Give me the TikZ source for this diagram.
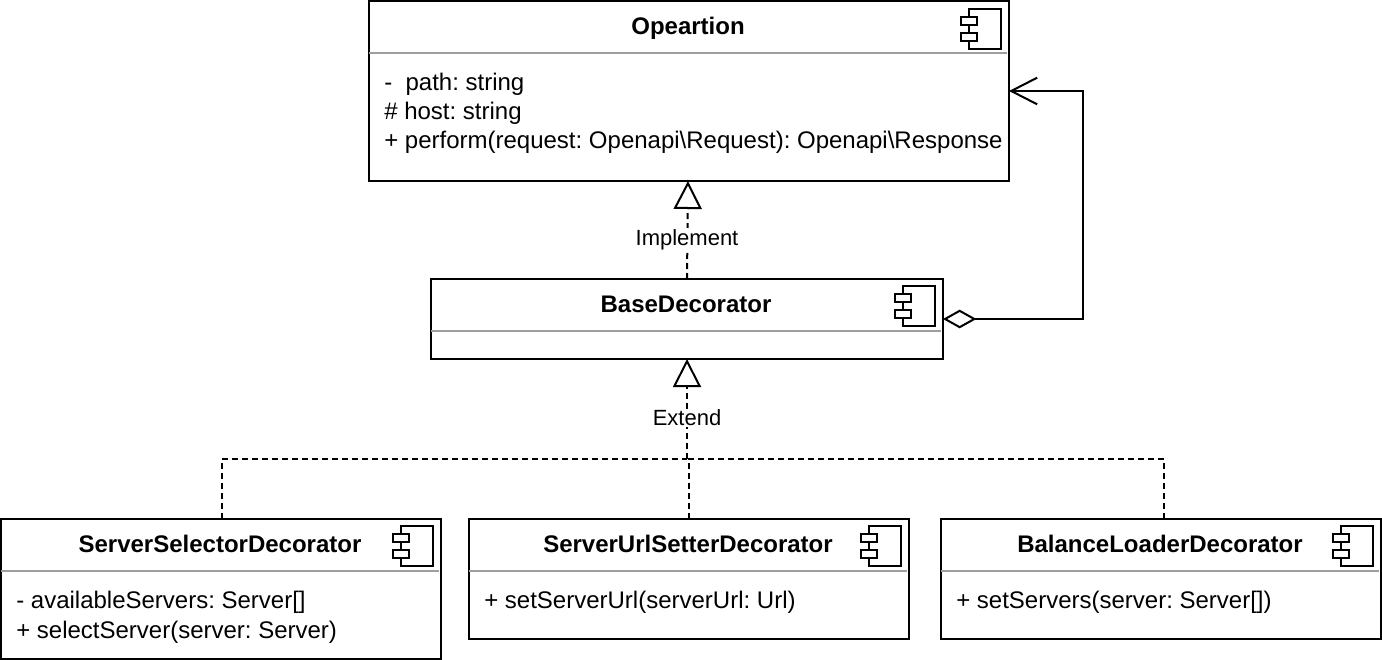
\documentclass[tikz,border=0pt]{standalone}
\usepackage{fontspec}
\setmainfont{Liberation Sans}
\usetikzlibrary{arrows.meta}
\frenchspacing
\tikzset{
  umlbox/.style={draw, line width=1.5pt, fill=white, inner sep=0pt, outer sep=0pt},
  umltitle/.style={font=\fontsize{18}{22}\selectfont\bfseries, inner sep=0pt, text height=13pt, text depth=3.5pt},
  umlbody/.style={font=\fontsize{18}{22}\selectfont, anchor=north west, align=left, inner sep=0pt},
  divider/.style={draw=black!38, line width=1.5pt},
  dep/.style={line width=1.5pt, dash pattern=on 4.5pt off 3pt},
  realize/.style={dep, -{Triangle[open, length=21pt, width=21pt, fill=white, line width=1.5pt]}},
  lbl/.style={font=\fontsize{16.5}{20}\selectfont, fill=white, inner sep=1pt},
  compicon/.pic={
    \draw[line width=1.5pt] (0,0) rectangle (32,40);
    \draw[line width=1.5pt, fill=white] (-8,8) rectangle (8,16);
    \draw[line width=1.5pt, fill=white] (-8,24) rectangle (8,32);
  }
}
\begin{document}
\begin{tikzpicture}[x=0.75pt, y=-0.75pt]
  \useasboundingbox (0,0) rectangle (1382,660);
  % boxes
  \node[umlbox, minimum width=480pt, minimum height=135pt] (op)   at (689,91)  {};
  \node[umlbox, minimum width=384pt, minimum height=60pt]  (base) at (687,319) {};
  \node[umlbox, minimum width=330pt, minimum height=105pt] (sel)  at (221,589) {};
  \node[umlbox, minimum width=330pt, minimum height=90pt]  (url)  at (689,579) {};
  \node[umlbox, minimum width=330pt, minimum height=90pt]  (bal)  at (1161,579) {};
  % dividers
  \draw[divider] (op.north west) ++(0,52) -- ++(638,0);
  \draw[divider] (base.north west) ++(0,52) -- ++(510,0);
  \draw[divider] (sel.north west) ++(0,52) -- ++(438,0);
  \draw[divider] (url.north west) ++(0,52) -- ++(438,0);
  \draw[divider] (bal.north west) ++(0,52) -- ++(438,0);
  % icons
  \pic at (969,9) {compicon};
  \pic at (903,286) {compicon};
  \pic at (401,526) {compicon};
  \pic at (869,526) {compicon};
  \pic at (1341,526) {compicon};
  % titles
  \node[umltitle] (optitle)   at (688,28)  {Opeartion};
  \node[umltitle] (basetitle) at (686,306) {BaseDecorator};
  \node[umltitle] (seltitle)  at (220,546) {ServerSelectorDecorator};
  \node[umltitle] (urltitle)  at (688,546) {ServerUrlSetterDecorator};
  \node[umltitle] (baltitle)  at (1160,546) {BalanceLoaderDecorator};
  % members
  \node[umlbody] (opbody)  at (384,73)  {-~~path: string\\[-0.25pt]\# host: string\\[-0.25pt]+ perform(request: Openapi\textbackslash Request): Openapi\textbackslash Response};
  \node[umlbody] (selbody) at (16,591)  {- availableServers: Server[]\\[0.5pt]+ selectServer(server: Server)};
  \node[umlbody] (urlbody) at (484,591) {+ setServerUrl(serverUrl: Url)};
  \node[umlbody] (balbody) at (956,591) {+ setServers(server: Server[])};
  % connectors
  \coordinate (bus) at (687,459);
  \coordinate (optip) at (688,181);
  \draw[realize] (base.north) -- (optip);
  \node[lbl] (impl) at (687,240) {Implement};
  \draw[realize] (bus) -- (base.south);
  \node[lbl] (ext) at (687,418) {Extend};
  \draw[dep] (sel.north) ++(1,0) |- (bus);
  \draw[dep] (bal.north) ++(3,0) |- (bus);
  \draw[dep] (url.north) -- (url.north |- bus);
  \draw[line width=1.5pt, {Diamond[open, length=25pt, width=14pt, line width=1.5pt]}-{Straight Barb[length=19.5pt, width=20pt, line width=1.5pt]}] (base.east) -- ++(140,0) |- (op.east);
\end{tikzpicture}
\end{document}
